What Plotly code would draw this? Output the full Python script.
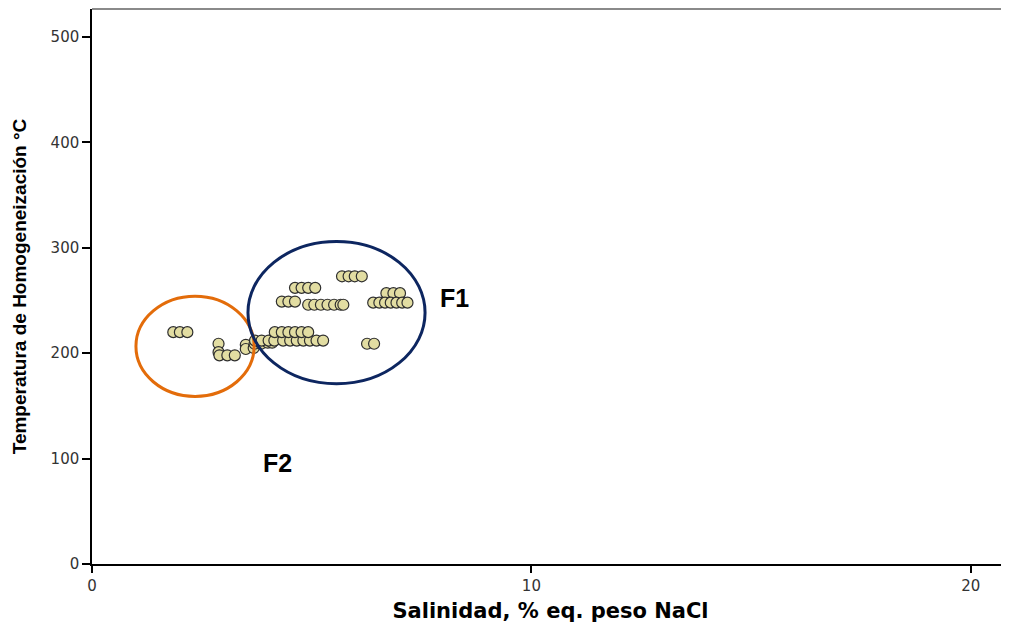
import plotly.graph_objects as go

# Data (salinity %, homogenization temperature °C)
salinidad = [
    1.85, 2.00, 2.17,
    2.88, 2.88, 2.90, 3.08, 3.25,
    3.50, 3.50, 3.68, 3.70, 3.85, 4.00, 4.10,
    3.71, 3.86, 4.02, 4.15, 4.35, 4.51, 4.66, 4.81, 4.96, 5.11, 5.26,
    4.16, 4.32, 4.47, 4.62, 4.77, 4.92,
    4.62, 4.77, 4.92, 5.08,
    4.32, 4.47, 4.62,
    4.92, 5.06, 5.21, 5.36, 5.51, 5.66, 5.72,
    5.69, 5.84, 5.98, 6.14,
    6.70, 6.86, 7.01,
    6.40, 6.54, 6.67, 6.80, 6.93, 7.06, 7.18,
    6.26, 6.42,
]
temperatura = [
    220, 220, 220,
    209, 201, 198, 198, 198,
    208, 204, 205, 209, 209, 210, 210,
    212, 212, 212, 212, 212, 212, 212, 212, 212, 212, 212,
    220, 220, 220, 220, 220, 220,
    262, 262, 262, 262,
    249, 249, 249,
    246, 246, 246, 246, 246, 246, 246,
    273, 273, 273, 273,
    257, 257, 257,
    248, 248, 248, 248, 248, 248, 248,
    209, 209,
]

# Group outlines (ellipse bounds in data units) and labels
grupos = ["F2", "F1"]
elipse_x0 = [1.00, 3.55]
elipse_x1 = [3.69, 7.58]
elipse_y0 = [159, 171]
elipse_y1 = [254, 306]
elipse_color = ["#E36C0A", "#0D2660"]
etiqueta_x = [4.23, 8.26]
etiqueta_y = [96, 252]

x_ticks = [0, 10, 20]
y_ticks = [0, 100, 200, 300, 400, 500]

FONT = "Liberation Sans, Arial, sans-serif"
WIDE = "DejaVu Sans, Verdana, sans-serif"

fig = go.Figure()
fig.add_trace(go.Scatter(
    x=salinidad, y=temperatura, mode="markers",
    marker=dict(size=11, color="#E2DDA2", line=dict(color="#2e2e2e", width=1.2)),
    showlegend=False, hoverinfo="x+y",
))

for i, g in enumerate(grupos):
    fig.add_shape(type="circle", xref="x", yref="y",
                  x0=elipse_x0[i], x1=elipse_x1[i], y0=elipse_y0[i], y1=elipse_y1[i],
                  line=dict(color=elipse_color[i], width=3), layer="above")
    fig.add_annotation(x=etiqueta_x[i], y=etiqueta_y[i], text=f"<b>{g}</b>",
                       showarrow=False, font=dict(family=FONT, size=25, color="black"))

# gray top frame line
fig.add_shape(type="line", xref="paper", yref="paper", x0=0, x1=1, y0=1, y1=1,
              line=dict(color="#8a8a8a", width=2))

fig.update_layout(
    width=1001, height=617,
    margin=dict(l=84, r=0, t=1, b=61),
    paper_bgcolor="white", plot_bgcolor="white",
    font=dict(family=FONT, color="#333333"),
    xaxis=dict(
        range=[0, 20.87], tickvals=x_ticks, ticks="outside", ticklen=7, tickwidth=1.5,
        tickcolor="black", showline=True, linecolor="black", linewidth=1.5,
        showgrid=False, zeroline=False, tickfont=dict(family=WIDE, size=15, color="#333333"),
        title=dict(text="<b>Salinidad, % eq. peso NaCl</b>", standoff=10,
                   font=dict(family=WIDE, size=21, color="black")),
    ),
    yaxis=dict(
        range=[0, 526.6], tickvals=y_ticks, ticks="outside", ticklen=8, tickwidth=1.5,
        tickcolor="black", showline=True, linecolor="black", linewidth=1.5,
        showgrid=False, zeroline=False, tickfont=dict(family=WIDE, size=15, color="#333333"),
        title=dict(text="<b>Temperatura de Homogeneización °C</b>", standoff=19,
                   font=dict(family=FONT, size=19, color="black")),
    ),
)

fig.write_html("out.html")
